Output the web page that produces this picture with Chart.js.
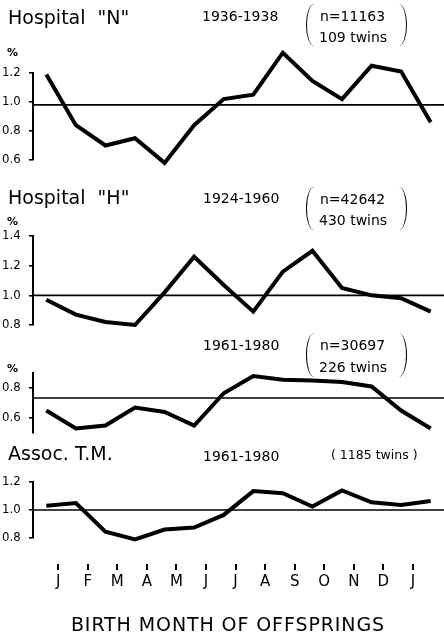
<!DOCTYPE html>
<html>
<head>
<meta charset="utf-8">
<script src="https://cdn.jsdelivr.net/npm/chart.js@4.4.1/dist/chart.umd.min.js"></script>
<style>
  html, body { margin: 0; padding: 0; background: #fff; }
  #wrap { position: relative; width: 444px; height: 637px; overflow: hidden; background: #fff; }
  #wrap canvas { position: absolute; left: 0; top: 0; }
  .t { position: absolute; font-family: 'DejaVu Sans', sans-serif; line-height: 1; white-space: pre; color: #000; }
  .h { font-size: 19px; }
  .s { font-size: 14px; }
  .pc { font-size: 11px; font-weight: bold; }
  .lp, .rp { position: absolute; width: 8px; border: 0 solid #000; box-sizing: border-box; }
  .lp { border-left-width: 1.8px; border-radius: 100% 0 0 100% / 50% 0 0 50%; }
  .rp { border-right-width: 1.8px; border-radius: 0 100% 100% 0 / 0 50% 50% 0; }
  .xt { font-size: 19px; letter-spacing: 0.9px; }
</style>
</head>
<body>
<div id="wrap">
  <canvas id="c1" width="444" height="637"></canvas>
  <canvas id="c2" width="444" height="637"></canvas>
  <canvas id="c3" width="444" height="637"></canvas>
  <canvas id="c4" width="444" height="637"></canvas>
  <canvas id="cx" width="444" height="637"></canvas>

  <div class="t h" style="left:8px;top:8px;">Hospital  "N"</div>
  <div class="t s" style="left:202px;top:9px;">1936-1938</div>
  <div class="t s" style="left:320px;top:9px;">n=11163</div>
  <div class="t s" style="left:319px;top:30px;">109 twins</div>
  <div class="lp" style="left:306px;top:4px;height:42px;"></div>
  <div class="rp" style="left:399px;top:4px;height:42px;"></div>
  <div class="t pc" style="left:7px;top:47px;">%</div>

  <div class="t h" style="left:8px;top:188px;">Hospital  "H"</div>
  <div class="t s" style="left:203px;top:191px;">1924-1960</div>
  <div class="t s" style="left:320px;top:192px;">n=42642</div>
  <div class="t s" style="left:319px;top:213px;">430 twins</div>
  <div class="lp" style="left:306px;top:187px;height:43px;"></div>
  <div class="rp" style="left:399px;top:187px;height:43px;"></div>
  <div class="t pc" style="left:7px;top:216px;">%</div>

  <div class="t s" style="left:203px;top:338px;">1961-1980</div>
  <div class="t s" style="left:320px;top:338px;">n=30697</div>
  <div class="t s" style="left:319px;top:360px;">226 twins</div>
  <div class="lp" style="left:306px;top:333px;height:44px;"></div>
  <div class="rp" style="left:399px;top:333px;height:44px;"></div>
  <div class="t pc" style="left:7px;top:363px;">%</div>

  <div class="t h" style="left:8px;top:444px;">Assoc. T.M.</div>
  <div class="t s" style="left:203px;top:449px;">1961-1980</div>
  <div class="t s" style="left:331px;top:449px;font-size:12.5px;">( 1185 twins )</div>

  <div class="t xt" style="left:0;width:456px;text-align:center;top:615px;">BIRTH MONTH OF OFFSPRINGS</div>
</div>
<script>
// ---- data ----
const monthLabels = ['J','F','M','A','M','J','J','A','S','O','N','D','J'];
const monthTicks = [0,1,2,3,4,5,6,7,8,9,10,11,12];
const pointX = [-0.4,0.6,1.6,2.6,3.6,4.6,5.6,6.6,7.6,8.6,9.6,10.6,11.6,12.6];

const hospitalN = [1.19,0.84,0.70,0.75,0.58,0.84,1.02,1.05,1.34,1.145,1.02,1.25,1.21,0.86];
const hospitalH1 = [0.97,0.87,0.82,0.80,1.02,1.26,1.07,0.89,1.16,1.30,1.05,1.00,0.98,0.89];
const hospitalH2 = [0.65,0.53,0.55,0.67,0.64,0.55,0.765,0.88,0.855,0.85,0.84,0.81,0.65,0.53];
const assocTM = [1.03,1.05,0.845,0.79,0.86,0.875,0.965,1.135,1.12,1.025,1.14,1.055,1.035,1.065];

const refN = 0.98, refH1 = 1.0, refH2 = 0.733, refTM = 1.0;

const ticksN = [0.6,0.8,1.0,1.2];
const ticksH1 = [0.8,1.0,1.2,1.4];
const ticksH2 = [0.6,0.8];
const ticksTM = [0.8,1.0,1.2];

// ---- layout / style ----
const X_MIN = -0.85, X_MAX = 13.05;
const W = 444, H = 637;
const panels = [
  { id:'c1', values:hospitalN,  ref:refN,  ticks:ticksN,  min:0.6, max:1.2, top:73,  bottom:160 },
  { id:'c2', values:hospitalH1, ref:refH1, ticks:ticksH1, min:0.8, max:1.4, top:236, bottom:325 },
  { id:'c3', values:hospitalH2, ref:refH2, ticks:ticksH2, min:0.5, max:0.9, top:373, bottom:433 },
  { id:'c4', values:assocTM,    ref:refTM, ticks:ticksTM, min:0.8, max:1.2, top:482, bottom:538 }
];

const refLinePlugin = {
  id: 'refLine',
  afterDatasetsDraw(chart, args, opts) {
    if (opts.value == null) return;
    const {ctx, chartArea, scales} = chart;
    const y = scales.y.getPixelForValue(opts.value);
    ctx.save();
    ctx.strokeStyle = '#000';
    ctx.lineWidth = 1.6;
    ctx.beginPath();
    ctx.moveTo(chartArea.left, y);
    ctx.lineTo(chartArea.right, y);
    ctx.stroke();
    ctx.restore();
  }
};

const tickFont = { family: "'DejaVu Sans Condensed', 'Liberation Sans', sans-serif", size: 13 };

panels.forEach(p => {
  new Chart(document.getElementById(p.id), {
    type: 'line',
    data: {
      datasets: [{
        data: pointX.map((x, i) => ({ x: x, y: p.values[i] })),
        borderColor: '#000',
        borderWidth: 4,
        pointRadius: 0,
        tension: 0,
        clip: false,
        fill: false
      }]
    },
    options: {
      responsive: false,
      animation: false,
      devicePixelRatio: 1,
      layout: { padding: { left: 2, right: 0, top: p.top, bottom: H - p.bottom } },
      plugins: { legend: { display: false }, tooltip: { enabled: false }, refLine: { value: p.ref } },
      scales: {
        x: { type: 'linear', min: X_MIN, max: X_MAX, display: false },
        y: {
          type: 'linear', min: p.min, max: p.max,
          afterFit: s => { s.width = 31; },
          afterBuildTicks: s => { s.ticks = p.ticks.map(v => ({ value: v })); },
          ticks: { color: '#000', font: tickFont, crossAlign: 'far', callback: v => Number(v).toFixed(1) },
          grid: { drawOnChartArea: false, tickLength: 4, color: '#000', lineWidth: 1.6 },
          border: { display: true, color: '#000', width: 2 }
        }
      }
    },
    plugins: [refLinePlugin]
  });
});

// x axis (month ticks)
new Chart(document.getElementById('cx'), {
  type: 'line',
  data: { datasets: [] },
  options: {
    responsive: false,
    animation: false,
    devicePixelRatio: 1,
    layout: { padding: { left: 33, right: 0, top: 0, bottom: 43 } },
    plugins: { legend: { display: false }, tooltip: { enabled: false } },
    scales: {
      x: {
        type: 'linear', min: X_MIN, max: X_MAX, position: 'bottom',
        afterBuildTicks: s => { s.ticks = monthTicks.map(v => ({ value: v })); },
        ticks: {
          color: '#000', padding: 3, maxRotation: 0, autoSkip: false,
          font: { family: "'DejaVu Sans', sans-serif", size: 15 },
          callback: (v, i) => monthLabels[i]
        },
        grid: { drawOnChartArea: false, tickLength: 6, color: '#000', lineWidth: 2 },
        border: { display: false }
      },
      y: { display: false, min: 0, max: 1 }
    }
  }
});
</script>
</body>
</html>
